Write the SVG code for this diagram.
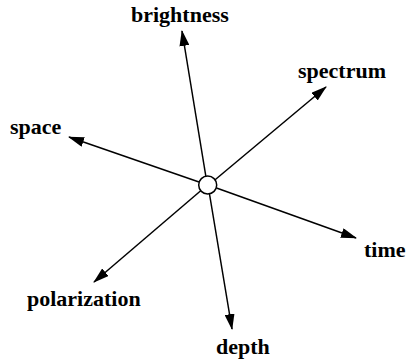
<svg xmlns="http://www.w3.org/2000/svg" width="407" height="362" viewBox="0 0 407 362">
<style>
.ax{stroke:#000;stroke-width:1.5;fill:none;marker-end:url(#ah)}
.lb{font-family:"Liberation Serif","Times New Roman",serif;font-weight:bold;font-size:22px;fill:#000}
</style>
<defs>
<marker id="ah" viewBox="0 0 16 10" refX="15" refY="5" markerWidth="16" markerHeight="10" markerUnits="userSpaceOnUse" orient="auto">
<path d="M0,0 L16,5 L0,10 Z" fill="#000"/>
</marker>
</defs>
<rect width="407" height="362" fill="#fff"/>
<g id="connectors">
<line class="ax" x1="205.8" y1="176" x2="182" y2="31"/>
<line class="ax" x1="209.5" y1="194" x2="232" y2="329"/>
<line class="ax" x1="214.8" y1="180" x2="326" y2="87"/>
<line class="ax" x1="201" y1="190.5" x2="94" y2="282"/>
<line class="ax" x1="199" y1="182" x2="69" y2="137"/>
<line class="ax" x1="216.5" y1="188" x2="356" y2="238"/>
</g>
<g id="center"><circle cx="207.7" cy="185" r="9" fill="#fff" stroke="#000" stroke-width="1.5"/></g>
<g id="brightness"><text class="lb" x="131" y="22">brightness</text></g>
<g id="spectrum"><text class="lb" x="298" y="78">spectrum</text></g>
<g id="space"><text class="lb" x="10" y="134">space</text></g>
<g id="time"><text class="lb" x="364" y="257">time</text></g>
<g id="polarization"><text class="lb" x="27" y="306">polarization</text></g>
<g id="depth"><text class="lb" x="216" y="354">depth</text></g>
</svg>
